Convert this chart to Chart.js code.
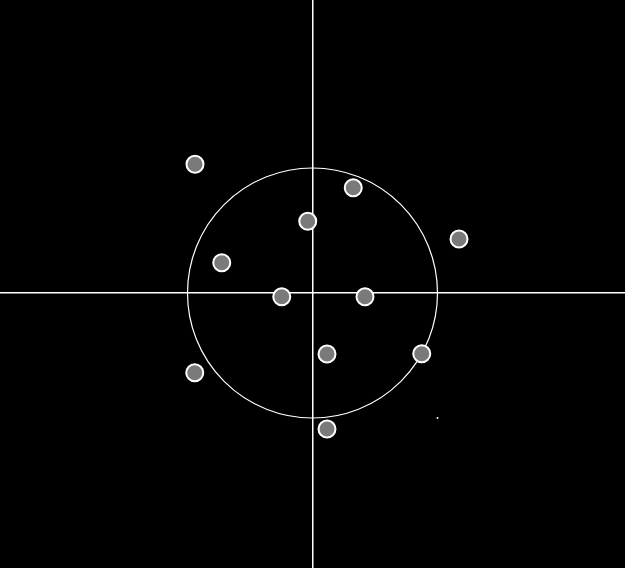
<!DOCTYPE html>
<html>
<head>
<meta charset="utf-8">
<script src="https://cdn.jsdelivr.net/npm/chart.js@4"></script>
<style>
  html, body { margin: 0; padding: 0; background: #000; }
  #chart { display: block; }
</style>
</head>
<body>
<canvas id="chart" width="625" height="568"></canvas>
<script>
// point positions (circle radius = 1)
const xValues = [-0.94, 0.326, -0.038, 1.172, -0.726, -0.246, 0.42, 0.116, 0.874, -0.942, 0.116];
const yValues = [1.03, 0.842, 0.574, 0.432, 0.242, -0.03, -0.03, -0.488, -0.486, -0.638, -1.088];
const markX = [1.0];
const markY = [-1.0];
const circleRadius = 1;

const points = xValues.map((x, i) => ({ x: x, y: yValues[i] }));
const marks = markX.map((x, i) => ({ x: x, y: markY[i] }));

// unit circle around the origin, sized through the scales
const circlePlugin = {
  id: "circle",
  beforeDatasetsDraw(chart) {
    const { ctx, scales } = chart;
    const cx = scales.x.getPixelForValue(0);
    const cy = scales.y.getPixelForValue(0);
    const rx = scales.x.getPixelForValue(circleRadius) - cx;
    const ry = cy - scales.y.getPixelForValue(circleRadius);
    ctx.save();
    ctx.strokeStyle = "#ffffff";
    ctx.lineWidth = 1.2;
    ctx.beginPath();
    ctx.ellipse(cx, cy, rx, ry, 0, 0, Math.PI * 2);
    ctx.stroke();
    ctx.restore();
  },
};

const zeroLine = (c) => (c.tick.value === 0 ? "#ffffff" : "rgba(0,0,0,0)");

new Chart(document.getElementById("chart"), {
  type: "scatter",
  data: {
    datasets: [
      {
        data: points,
        backgroundColor: "#7a7a7a",
        borderColor: "#ffffff",
        borderWidth: 2,
        pointRadius: 8.5,
        pointHoverRadius: 8.5,
      },
      {
        data: marks,
        backgroundColor: "#ffffff",
        borderColor: "#ffffff",
        borderWidth: 0,
        pointRadius: 1,
      },
    ],
  },
  options: {
    responsive: false,
    animation: false,
    layout: { padding: 0, autoPadding: false },
    plugins: {
      legend: { display: false },
      tooltip: { enabled: false },
    },
    scales: {
      x: {
        type: "linear",
        min: -2.5,
        max: 2.5,
        afterBuildTicks: (axis) => {
          axis.ticks = [{ value: 0 }];
        },
        ticks: { display: false },
        border: { display: false },
        grid: { color: zeroLine, lineWidth: 1.5, drawTicks: false },
      },
      y: {
        type: "linear",
        min: -2.2,
        max: 2.344,
        afterBuildTicks: (axis) => {
          axis.ticks = [{ value: 0 }];
        },
        ticks: { display: false },
        border: { display: false },
        grid: { color: zeroLine, lineWidth: 1.5, drawTicks: false },
      },
    },
  },
  plugins: [circlePlugin],
});
</script>
</body>
</html>
